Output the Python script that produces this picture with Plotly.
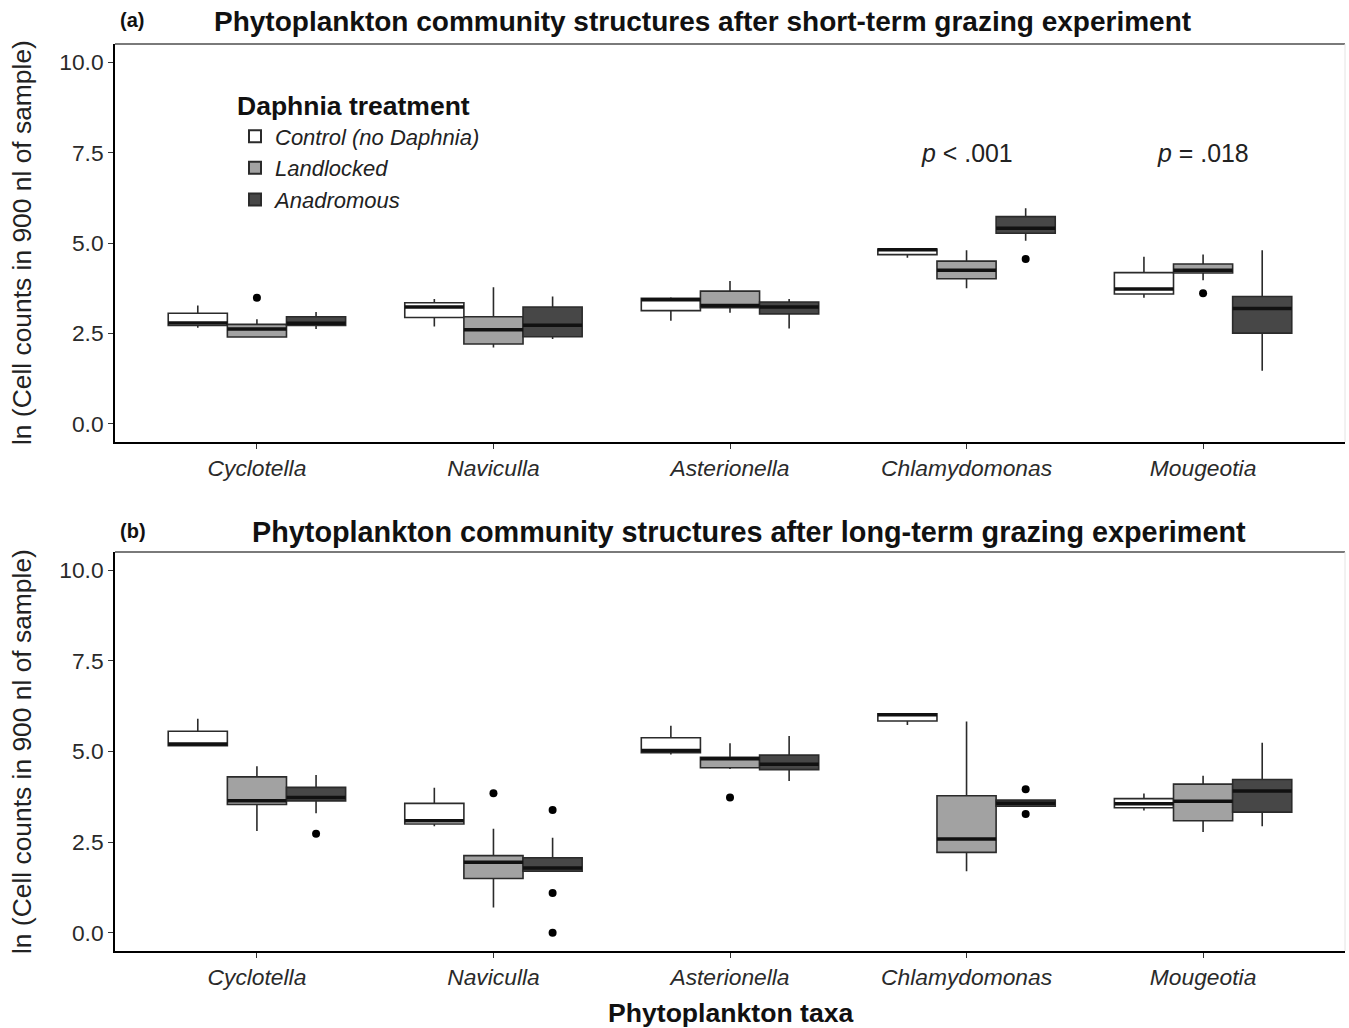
import plotly.graph_objects as go

# ---------------- data ----------------
taxa = ["Cyclotella", "Naviculla", "Asterionella", "Chlamydomonas", "Mougeotia"]
treatments = ["Control (no Daphnia)", "Landlocked", "Anadromous"]

# (a) short-term experiment, per treatment across taxa
a_control_min = [2.66, 2.69, 2.85, 4.59, 3.49]
a_control_q1 = [2.72, 2.94, 3.13, 4.68, 3.59]
a_control_med = [2.79, 3.23, 3.43, 4.81, 3.73]
a_control_q3 = [3.06, 3.35, 3.47, 4.83, 4.18]
a_control_max = [3.27, 3.45, 3.50, 4.85, 4.62]

a_land_min = [2.40, 2.11, 3.07, 3.75, 3.97]
a_land_q1 = [2.40, 2.21, 3.21, 4.01, 4.17]
a_land_med = [2.62, 2.60, 3.27, 4.25, 4.25]
a_land_q3 = [2.75, 2.96, 3.67, 4.50, 4.42]
a_land_max = [2.89, 3.78, 3.95, 4.80, 4.68]

a_anad_min = [2.62, 2.35, 2.64, 5.06, 1.47]
a_anad_q1 = [2.72, 2.41, 3.04, 5.27, 2.51]
a_anad_med = [2.78, 2.73, 3.23, 5.41, 3.19]
a_anad_q3 = [2.96, 3.23, 3.37, 5.73, 3.52]
a_anad_max = [3.09, 3.52, 3.45, 5.96, 4.80]

a_out_taxon = ["Cyclotella", "Chlamydomonas", "Mougeotia"]
a_out_treat = ["Landlocked", "Anadromous", "Landlocked"]
a_out_value = [3.49, 4.56, 3.61]

# (b) long-term experiment
b_control_min = [5.16, 2.94, 4.92, 5.73, 3.37]
b_control_q1 = [5.16, 3.00, 4.97, 5.84, 3.45]
b_control_med = [5.21, 3.09, 5.03, 6.01, 3.56]
b_control_q3 = [5.56, 3.57, 5.38, 6.04, 3.70]
b_control_max = [5.90, 4.00, 5.71, 6.06, 3.84]

b_land_min = [2.81, 0.70, 4.52, 1.70, 2.78]
b_land_q1 = [3.54, 1.50, 4.55, 2.22, 3.09]
b_land_med = [3.64, 1.95, 4.80, 2.59, 3.63]
b_land_q3 = [4.30, 2.13, 4.84, 3.78, 4.10]
b_land_max = [4.59, 2.87, 5.23, 5.83, 4.33]

b_anad_min = [3.30, 1.70, 4.19, 3.49, 2.94]
b_anad_q1 = [3.64, 1.70, 4.50, 3.49, 3.33]
b_anad_med = [3.73, 1.79, 4.65, 3.57, 3.91]
b_anad_q3 = [4.01, 2.07, 4.90, 3.66, 4.23]
b_anad_max = [4.35, 2.62, 5.43, 3.66, 5.24]

b_out_taxon = ["Cyclotella", "Naviculla", "Naviculla", "Naviculla", "Naviculla",
               "Asterionella", "Chlamydomonas", "Chlamydomonas"]
b_out_treat = ["Anadromous", "Landlocked", "Anadromous", "Anadromous", "Anadromous",
               "Landlocked", "Anadromous", "Anadromous"]
b_out_value = [2.73, 3.85, 3.39, 1.10, 0.00, 3.73, 3.96, 3.28]

y_ticks = [0.0, 2.5, 5.0, 7.5, 10.0]
titles = ["Phytoplankton community structures after short-term grazing experiment",
          "Phytoplankton community structures after long-term grazing experiment"]
panel_tags = ["(a)", "(b)"]
p_labels = ["<i>p</i> < .001", "<i>p</i> = .018"]
p_taxa = ["Chlamydomonas", "Mougeotia"]
p_y = 7.5

# ---------------- styles ----------------
fills = ["#FFFFFF", "#A2A2A2", "#474747"]
FONT = "Liberation Sans, Arial, Helvetica, sans-serif"
dodge = 0.75
bw = dodge / 3
offsets = [-bw, 0.0, bw]

W, H = 1349, 1028
L, R, T, B = 115, 4, 44, 77
plot_h = H - T - B
def xp(px):
    return (px - L) / (W - L - R)
def yp(py):
    return (H - B - py) / plot_h

panels = [
    dict(sets=[(a_control_min, a_control_q1, a_control_med, a_control_q3, a_control_max),
               (a_land_min, a_land_q1, a_land_med, a_land_q3, a_land_max),
               (a_anad_min, a_anad_q1, a_anad_med, a_anad_q3, a_anad_max)],
         out=(a_out_taxon, a_out_treat, a_out_value), xa="x", ya="y"),
    dict(sets=[(b_control_min, b_control_q1, b_control_med, b_control_q3, b_control_max),
               (b_land_min, b_land_q1, b_land_med, b_land_q3, b_land_max),
               (b_anad_min, b_anad_q1, b_anad_med, b_anad_q3, b_anad_max)],
         out=(b_out_taxon, b_out_treat, b_out_value), xa="x2", ya="y2"),
]

fig = go.Figure()
for pi, pan in enumerate(panels):
    for ti, (mn, q1, md, q3, mx) in enumerate(pan["sets"]):
        xs = [i + 1 + offsets[ti] for i in range(len(taxa))]
        fig.add_trace(go.Box(
            x=xs, q1=q1, median=md, q3=q3, lowerfence=mn, upperfence=mx,
            width=bw, fillcolor=fills[ti], whiskerwidth=0,
            line=dict(color="#2b2b2b", width=1.6),
            name="<i>" + treatments[ti] + "</i>", legendgroup=treatments[ti],
            showlegend=(pi == 0), boxpoints=False,
            xaxis=pan["xa"], yaxis=pan["ya"], hoverinfo="skip"))
        mxs, mys = [], []
        for x, m in zip(xs, md):
            mxs += [x - bw / 2, x + bw / 2, None]
            mys += [m, m, None]
        fig.add_trace(go.Scatter(x=mxs, y=mys, mode="lines",
                                 line=dict(color="#111111", width=3.5),
                                 showlegend=False, hoverinfo="skip",
                                 xaxis=pan["xa"], yaxis=pan["ya"]))
    ot, otr, ov = pan["out"]
    ox = [taxa.index(t) + 1 + offsets[treatments.index(r)] for t, r in zip(ot, otr)]
    fig.add_trace(go.Scatter(x=ox, y=ov, mode="markers",
                             marker=dict(color="#000000", size=8),
                             showlegend=False, hoverinfo="skip",
                             xaxis=pan["xa"], yaxis=pan["ya"]))

top_dom = [yp(442), 1.0]
bot_dom = [0.0, yp(552)]

axis_common = dict(showgrid=False, zeroline=False, showline=True,
                   linecolor="#000000", linewidth=1.6, ticks="outside",
                   ticklen=5, tickwidth=1.3, tickcolor="#333333")
xcommon = dict(axis_common, range=[0.4, 5.6],
               tickvals=[i + 1 for i in range(len(taxa))],
               ticktext=["<i>" + t + "</i>" for t in taxa],
               tickfont=dict(family=FONT, size=22.8, color="#2a2a2a"))
ycommon = dict(axis_common, range=[-0.5, 10.5], tickvals=y_ticks,
               ticktext=["%.1f" % v for v in y_ticks],
               tickfont=dict(family=FONT, size=22.8, color="#2a2a2a"))

fig.update_layout(
    width=W, height=H,
    margin=dict(l=L, r=R, t=T, b=B),
    plot_bgcolor="white", paper_bgcolor="white",
    boxmode="overlay",
    xaxis=dict(xcommon, domain=[0, 1], anchor="y"),
    yaxis=dict(ycommon, domain=top_dom, anchor="x"),
    xaxis2=dict(xcommon, domain=[0, 1], anchor="y2"),
    yaxis2=dict(ycommon, domain=bot_dom, anchor="x2"),
    legend=dict(x=xp(235), y=yp(81), xanchor="left", yanchor="top",
                bgcolor="rgba(0,0,0,0)",
                title=dict(text="<b>Daphnia treatment</b>",
                           font=dict(family=FONT, size=26.5, color="#111111")),
                font=dict(family=FONT, size=22, color="#222222"),
                tracegroupgap=0, itemsizing="constant"),
    font=dict(family=FONT),
)

ann = []
title_cx = [702, 749]
title_cy = [21, 532]
title_size = [28, 28.8]
tag_cx = [132, 133]
for i in range(2):
    ann.append(dict(text="<b>" + titles[i] + "</b>", x=xp(title_cx[i]), y=yp(title_cy[i]),
                    xref="paper", yref="paper", showarrow=False,
                    xanchor="center", yanchor="middle",
                    font=dict(family=FONT, size=title_size[i], color="#111111")))
    ann.append(dict(text="<b>" + panel_tags[i] + "</b>", x=xp(tag_cx[i]), y=yp(title_cy[i] - 1),
                    xref="paper", yref="paper", showarrow=False,
                    xanchor="center", yanchor="middle",
                    font=dict(family=FONT, size=20, color="#111111")))
ytitle_cy = [243, 752]
for i in range(2):
    ann.append(dict(text="ln (Cell counts in 900 nl of sample)", textangle=-90,
                    x=xp(22), y=yp(ytitle_cy[i]), xref="paper", yref="paper",
                    showarrow=False, xanchor="center", yanchor="middle",
                    font=dict(family=FONT, size=26.4, color="#222222")))
ann.append(dict(text="<b>Phytoplankton taxa</b>", x=xp(731), y=yp(1013),
                xref="paper", yref="paper", showarrow=False,
                xanchor="center", yanchor="middle",
                font=dict(family=FONT, size=26.6, color="#111111")))
for lab, t in zip(p_labels, p_taxa):
    ann.append(dict(text=lab, x=taxa.index(t) + 1, y=p_y, xref="x", yref="y",
                    showarrow=False, xanchor="center", yanchor="middle",
                    font=dict(family=FONT, size=24.9, color="#222222")))
fig.update_layout(annotations=ann)

shapes = []
for xa, ya in [("x", "y"), ("x2", "y2")]:
    shapes.append(dict(type="line", xref=xa + " domain", yref=ya + " domain",
                       x0=0, x1=1, y0=1, y1=1, line=dict(color="#7a7a7a", width=2)))
    shapes.append(dict(type="line", xref=xa + " domain", yref=ya + " domain",
                       x0=1, x1=1, y0=0, y1=1, line=dict(color="#e4e4e4", width=1)))
fig.update_layout(shapes=shapes)

# remove the default 8px page margin so the figure sits at the window's corner
fig.write_html("out.html", config={"displayModeBar": False},
               post_script="document.body.style.margin='0px';")
